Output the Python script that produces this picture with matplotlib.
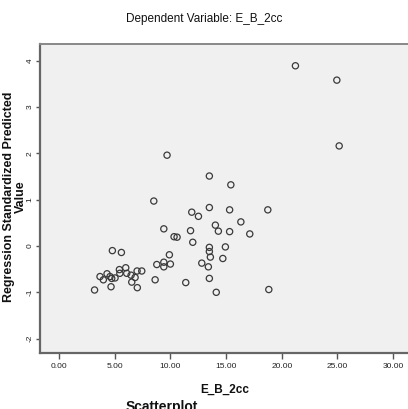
import numpy as np
import matplotlib
matplotlib.use("Agg")
import matplotlib.pyplot as plt

# SPSS style scatterplot: predicted value vs E_B_2cc
e_b_2cc = [3.19, 3.68, 3.98, 4.31, 4.58, 4.73, 4.67, 5.03, 4.79, 5.60,
           5.42, 5.46, 5.99, 6.08, 6.47, 6.53, 6.83, 7.03, 7.01, 7.43,
           8.63, 8.78, 9.41, 9.41, 9.91, 10.00, 11.38, 8.51, 9.70, 9.41,
           10.33, 10.60, 11.81, 12.01, 11.92, 12.52, 13.50, 13.50, 14.04, 14.31,
           13.50, 13.50, 13.59, 12.82, 13.41, 13.50, 14.12, 14.71, 14.94, 15.32,
           15.32, 15.43, 16.33, 17.13, 18.75, 18.84, 21.23, 24.95, 25.16]
pred_std = [-0.95, -0.66, -0.73, -0.60, -0.66, -0.70, -0.88, -0.69, -0.10, -0.14,
            -0.51, -0.59, -0.47, -0.59, -0.63, -0.78, -0.68, -0.90, -0.54, -0.54,
            -0.73, -0.40, -0.35, -0.45, -0.19, -0.39, -0.79, 0.97, 1.96, 0.37,
            0.20, 0.19, 0.33, 0.08, 0.73, 0.64, 1.51, 0.83, 0.45, 0.32,
            -0.03, -0.12, -0.24, -0.37, -0.45, -0.70, -1.00, -0.27, -0.02, 0.31,
            0.78, 1.32, 0.52, 0.26, 0.78, -0.94, 3.89, 3.58, 2.16]

x_ticks = [0, 5, 10, 15, 20, 25, 30]
y_ticks = [-2, -1, 0, 1, 2, 3, 4]

narrow = ['Liberation Sans Narrow', 'Liberation Sans', 'DejaVu Sans']
bold = ['Liberation Sans', 'DejaVu Sans']

W, H = 408, 409
fig = plt.figure(figsize=(W / 100, H / 100), dpi=100)
fig.patch.set_facecolor('white')
ax = fig.add_axes([40 / W, 1 - 353 / H, 372 / W, (353 - 44) / H])
ax.set_facecolor('#f0f0f0')

ax.scatter(e_b_2cc, pred_std, s=20, facecolors='none', edgecolors='#3a3a3a', linewidths=0.9)

ax.set_xlim(-1.71, 31.7)
ax.set_ylim(-2.31, 4.36)
ax.set_xticks(x_ticks)
ax.set_xticklabels(['%.2f' % v for v in x_ticks], family=narrow, fontsize=6, color='#222222')
ax.set_yticks(y_ticks)
ax.set_yticklabels([str(v) for v in y_ticks], family=narrow, fontsize=6, color='#222222',
                   rotation=90, va='center')
ax.tick_params(axis='x', length=4, width=1, color='#555555', pad=3)
ax.tick_params(axis='y', length=3, width=1, color='#555555', pad=1.5)

for side in ['left', 'bottom']:
    ax.spines[side].set_color('#666666')
    ax.spines[side].set_linewidth(1.6)
for side in ['top', 'right']:
    ax.spines[side].set_color('#888888')
    ax.spines[side].set_linewidth(1.4)

fig.text(204 / W, 1 - 19 / H, 'Dependent Variable: E_B_2cc', family=narrow,
         fontsize=8.5, ha='center', va='center', color='#111111')
fig.text(225 / W, 1 - 390 / H, 'E_B_2cc', family=narrow, fontweight='bold',
         fontsize=8.5, ha='center', va='center', color='#111111')
fig.text(162 / W, 1 - 400 / H, 'Scatterplot', family=bold, fontweight='bold',
         fontsize=10, ha='center', va='top', color='#111111')
fig.text(15 / W, 1 - 197 / H, 'Regression Standardized Predicted\nValue', family=bold,
         fontweight='bold', fontsize=9, ha='center', va='center', rotation=90,
         linespacing=0.92, color='#111111')

fig.savefig('out.png', dpi=100)
